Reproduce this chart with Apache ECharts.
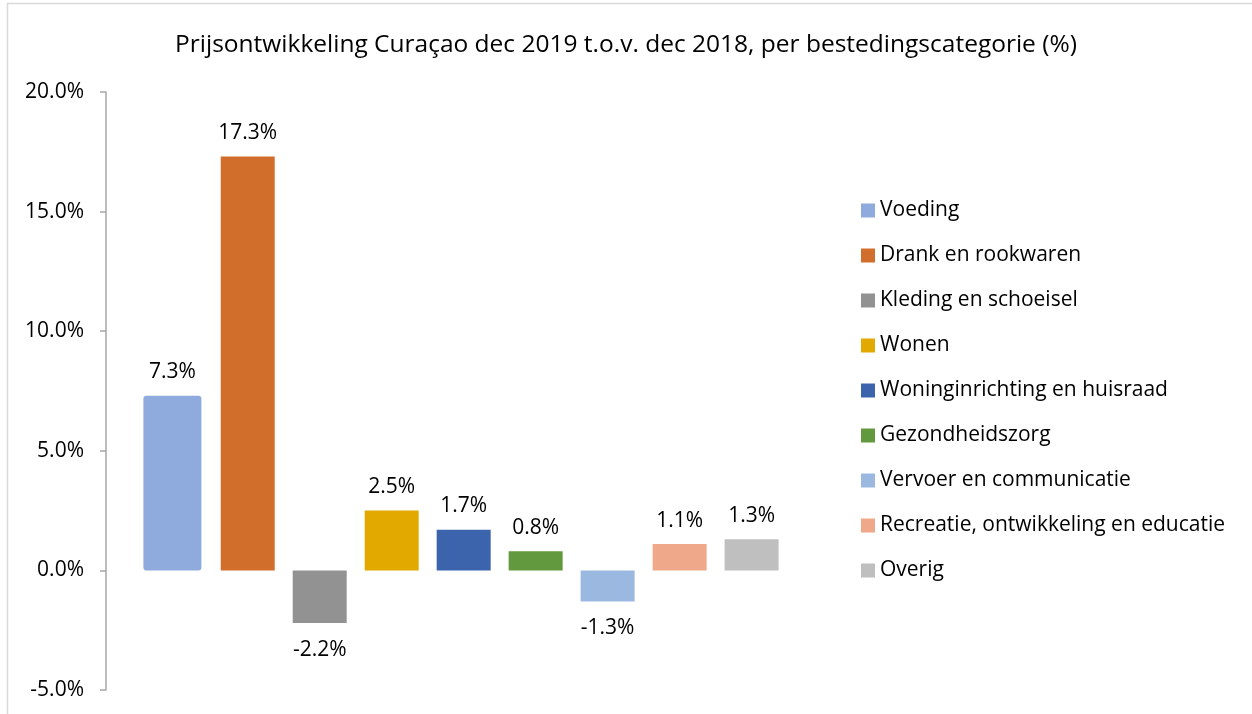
<!DOCTYPE html>
<html>
<head>
<meta charset="utf-8">
<script src="https://cdn.jsdelivr.net/npm/echarts@6/dist/echarts.min.js"></script>
<style>
html,body{margin:0;padding:0;background:#fff;}
#chart{width:1252px;height:714px;}
</style>
</head>
<body>
<div id="chart"></div>
<script>
const titleText = 'Prijsontwikkeling Curaçao dec 2019 t.o.v. dec 2018, per bestedingscategorie (%)';
const seriesNames = ['Voeding','Drank en rookwaren','Kleding en schoeisel','Wonen','Woninginrichting en huisraad','Gezondheidszorg','Vervoer en communicatie','Recreatie, ontwikkeling en educatie','Overig'];
const seriesValues = [7.3, 17.3, -2.2, 2.5, 1.7, 0.8, -1.3, 1.1, 1.3];
const seriesColors = ['#8FAADC','#D26E2B','#929292','#E2AA00','#3B64AC','#62993E','#9BB9E0','#F0A88A','#BFBFBF'];
const yTicks = [-5, 0, 5, 10, 15, 20];
const category = [''];

const font = '"Open Sans", sans-serif';
const chart = echarts.init(document.getElementById('chart'), null, {renderer:'canvas'});

const series = seriesNames.map((name, i) => {
  const v = seriesValues[i];
  const s = {
    name: name,
    type: 'bar',
    data: [v],
    barWidth: i === 0 ? 58 : 54,
    barGap: '33.3%',
    itemStyle: { color: seriesColors[i] },
    label: {
      show: true,
      position: v >= 0 ? 'top' : 'bottom',
      distance: v >= 0 ? 13 : 16,
      color: '#000',
      fontSize: 21,
      fontFamily: font,
      formatter: p => p.value.toFixed(1) + '%'
    }
  };
  if (i === 0) {
    s.itemStyle.borderRadius = 3;
  }
  return s;
});

chart.setOption({
  animation: false,
  backgroundColor: '#fff',
  title: {
    text: titleText,
    left: 'center',
    top: 28,
    textStyle: { fontFamily: font, fontSize: 24.5, fontWeight: 'normal', color: '#000' }
  },
  legend: {
    orient: 'vertical',
    left: 861,
    top: 200,
    padding: 0,
    itemWidth: 14,
    itemHeight: 14,
    itemGap: 24,
    icon: 'rect',
    textStyle: { fontFamily: font, fontSize: 21, color: '#000', lineHeight: 21 },
    data: seriesNames
  },
  grid: { left: 106, right: 436, top: 92, bottom: 714 - 690, containLabel: false },
  xAxis: {
    type: 'category',
    data: category,
    show: false
  },
  yAxis: {
    type: 'value',
    min: yTicks[0],
    max: yTicks[yTicks.length - 1],
    interval: yTicks[1] - yTicks[0],
    axisLine: { show: true, lineStyle: { color: '#A6A6A6', width: 1.5 } },
    axisTick: { show: true, length: 6, lineStyle: { color: '#A6A6A6', width: 1.5 } },
    splitLine: { show: false },
    axisLabel: {
      margin: 22,
      color: '#000',
      fontSize: 21,
      fontFamily: font,
      formatter: v => v.toFixed(1) + '%'
    }
  },
  graphic: [{
    type: 'rect',
    shape: { x: 7.5, y: 3.5, width: 1400, height: 900 },
    style: { fill: 'none', stroke: '#D9D9D9', lineWidth: 1.5 },
    silent: true,
    z: 100
  }],
  series: series
});
</script>
</body>
</html>
